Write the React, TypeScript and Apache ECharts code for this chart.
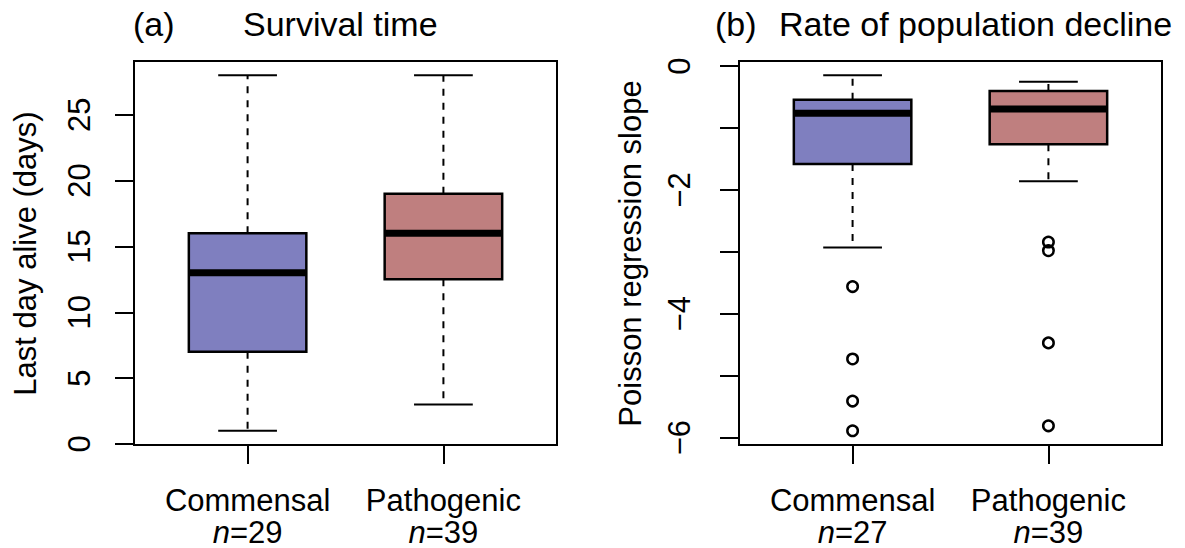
import React, { useEffect, useRef } from "react";
import * as echarts from "echarts";

// ---- data ----
const categories = ["Commensal", "Pathogenic"];
const nSurvival = [29, 39];
const nSlope = [27, 39];

// (a) Survival time (days)
const survivalLow = [1, 3];
const survivalQ1 = [7, 12.5];
const survivalMedian = [13, 16];
const survivalQ3 = [16, 19];
const survivalHigh = [28, 28];

// (b) Poisson regression slope
const slopeLow = [-2.93, -1.86];
const slopeQ1 = [-1.58, -1.26];
const slopeMedian = [-0.76, -0.69];
const slopeQ3 = [-0.54, -0.4];
const slopeHigh = [-0.145, -0.25];
const slopeOutliersCommensal = [-3.56, -4.73, -5.41, -5.89];
const slopeOutliersPathogenic = [-2.84, -2.98, -4.47, -5.81];

const survivalTicks = [0, 5, 10, 15, 20, 25];
const slopeTicks = [0, -1, -2, -3, -4, -5, -6];
const slopeLabels = [0, -2, -4, -6];

const boxColors = ["#7F7FBF", "#BF7F7F"];
const FONT = "'Liberation Sans', Arial, Helvetica, sans-serif";

function rRange(vals: number[]) {
  const lo = Math.min(...vals);
  const hi = Math.max(...vals);
  const d = (hi - lo) * 0.04;
  return [lo - d, hi + d];
}

function boxRender(params: any, api: any) {
  const x = api.value(0);
  const pLo = api.coord([x, api.value(1)]);
  const pQ1 = api.coord([x, api.value(2)]);
  const pMed = api.coord([x, api.value(3)]);
  const pQ3 = api.coord([x, api.value(4)]);
  const pHi = api.coord([x, api.value(5)]);
  const cx = pLo[0];
  const half = api.size([0.3, 0])[0];
  const capHalf = api.size([0.15, 0])[0];
  const color = boxColors[params.dataIndex];
  const thin = { stroke: "#000", lineWidth: 2 };
  return {
    type: "group",
    children: [
      { type: "line", shape: { x1: cx, y1: pQ3[1], x2: cx, y2: pHi[1] }, style: { ...thin, lineDash: [7, 7] } },
      { type: "line", shape: { x1: cx, y1: pQ1[1], x2: cx, y2: pLo[1] }, style: { ...thin, lineDash: [7, 7] } },
      { type: "line", shape: { x1: cx - capHalf, y1: pHi[1], x2: cx + capHalf, y2: pHi[1] }, style: thin },
      { type: "line", shape: { x1: cx - capHalf, y1: pLo[1], x2: cx + capHalf, y2: pLo[1] }, style: thin },
      {
        type: "rect",
        shape: { x: cx - half, y: pQ3[1], width: 2 * half, height: pQ1[1] - pQ3[1] },
        style: { fill: color, stroke: "#000", lineWidth: 2.5 },
      },
      {
        type: "line",
        shape: { x1: cx - half, y1: pMed[1], x2: cx + half, y2: pMed[1] },
        style: { stroke: "#000", lineWidth: 7 },
      },
    ],
  };
}

export default function App() {
  const ref = useRef<HTMLDivElement>(null);
  useEffect(() => {
    if (!ref.current) return;
    const chart = echarts.init(ref.current, null, { renderer: "svg" });

    const yA = rRange([...survivalLow, ...survivalHigh]);
    const yB = rRange([...slopeLow, ...slopeHigh, ...slopeOutliersCommensal, ...slopeOutliersPathogenic]);

    const fmtNum = (v: number) => (v < 0 ? "\u2212" + Math.abs(v) : String(v));

    const xAxisCommon = (nArr: number[]) => ({
      type: "value",
      position: "bottom",
      min: 0.42,
      max: 2.58,
      axisLine: { show: false, onZero: false },
      splitLine: { show: false },
      axisTick: { show: true, customValues: [1, 2], length: 19, inside: false, lineStyle: { color: "#000", width: 2 } },
      axisLabel: {
        show: true,
        customValues: [1, 2],
        margin: 39,
        color: "#000",
        fontFamily: FONT,
        fontSize: 31,
        lineHeight: 32,
        formatter: (v: number) => categories[v - 1] + "\n{i|n}=" + nArr[v - 1],
        rich: {
          i: { fontStyle: "italic", fontSize: 31, fontFamily: FONT, color: "#000", lineHeight: 32 },
        },
      },
    });

    const yAxisCommon = (range: number[], ticks: number[], labels: number[], margin: number) => ({
      type: "value",
      position: "left",
      min: range[0],
      max: range[1],
      axisLine: { show: false, onZero: false },
      splitLine: { show: false },
      axisTick: { show: true, customValues: ticks, length: 19, inside: false, lineStyle: { color: "#000", width: 2 } },
      axisLabel: {
        show: true,
        customValues: labels,
        rotate: 90,
        margin,
        color: "#000",
        fontFamily: FONT,
        fontSize: 31,
        formatter: (v: number) => fmtNum(v),
      },
    });

    const textStyle = (fs: number) => ({ fill: "#000", fontFamily: FONT, fontSize: fs });

    chart.setOption({
      animation: false,
      backgroundColor: "#fff",
      grid: [
        { left: 134, top: 61, width: 423, height: 385, show: true, borderColor: "#000", borderWidth: 2, backgroundColor: "transparent" },
        { left: 739, top: 61, width: 423, height: 385, show: true, borderColor: "#000", borderWidth: 2, backgroundColor: "transparent" },
      ],
      xAxis: [
        { ...xAxisCommon(nSurvival), gridIndex: 0 },
        { ...xAxisCommon(nSlope), gridIndex: 1 },
      ],
      yAxis: [
        { ...yAxisCommon(yA, survivalTicks, survivalTicks, 39), gridIndex: 0 },
        { ...yAxisCommon(yB, slopeTicks, slopeLabels, 44), gridIndex: 1 },
      ],
      series: [
        {
          type: "custom",
          xAxisIndex: 0,
          yAxisIndex: 0,
          renderItem: boxRender,
          encode: { x: 0, y: [1, 2, 3, 4, 5] },
          data: categories.map((_, i) => [i + 1, survivalLow[i], survivalQ1[i], survivalMedian[i], survivalQ3[i], survivalHigh[i]]),
        },
        {
          type: "custom",
          xAxisIndex: 1,
          yAxisIndex: 1,
          renderItem: boxRender,
          encode: { x: 0, y: [1, 2, 3, 4, 5] },
          data: categories.map((_, i) => [i + 1, slopeLow[i], slopeQ1[i], slopeMedian[i], slopeQ3[i], slopeHigh[i]]),
        },
        {
          type: "scatter",
          xAxisIndex: 1,
          yAxisIndex: 1,
          symbol: "circle",
          symbolSize: 10.5,
          itemStyle: { color: "rgba(255,255,255,0)", borderColor: "#000", borderWidth: 2.5, opacity: 1 },
          data: [
            ...slopeOutliersCommensal.map((v) => [1, v]),
            ...slopeOutliersPathogenic.map((v) => [2, v]),
          ],
        },
      ],
      graphic: [
        { type: "text", x: 133, y: 24, style: { ...textStyle(34), text: "(a)", align: "left", verticalAlign: "middle" } },
        { type: "text", x: 243, y: 24, style: { ...textStyle(34), text: "Survival time", align: "left", verticalAlign: "middle" } },
        { type: "text", x: 715, y: 24, style: { ...textStyle(34), text: "(b)", align: "left", verticalAlign: "middle" } },
        { type: "text", x: 779, y: 24, style: { ...textStyle(34), text: "Rate of population decline", align: "left", verticalAlign: "middle" } },
        {
          type: "text",
          x: 25,
          y: 253.5,
          rotation: Math.PI / 2,
          style: { ...textStyle(31), text: "Last day alive (days)", align: "center", verticalAlign: "middle" },
        },
        {
          type: "text",
          x: 630,
          y: 253.5,
          rotation: Math.PI / 2,
          style: { ...textStyle(31), text: "Poisson regression slope", align: "center", verticalAlign: "middle" },
        },
      ],
    });
    return () => chart.dispose();
  }, []);
  return <div ref={ref} style={{ position: "absolute", left: 0, top: 0, width: 1185, height: 548 }} />;
}
